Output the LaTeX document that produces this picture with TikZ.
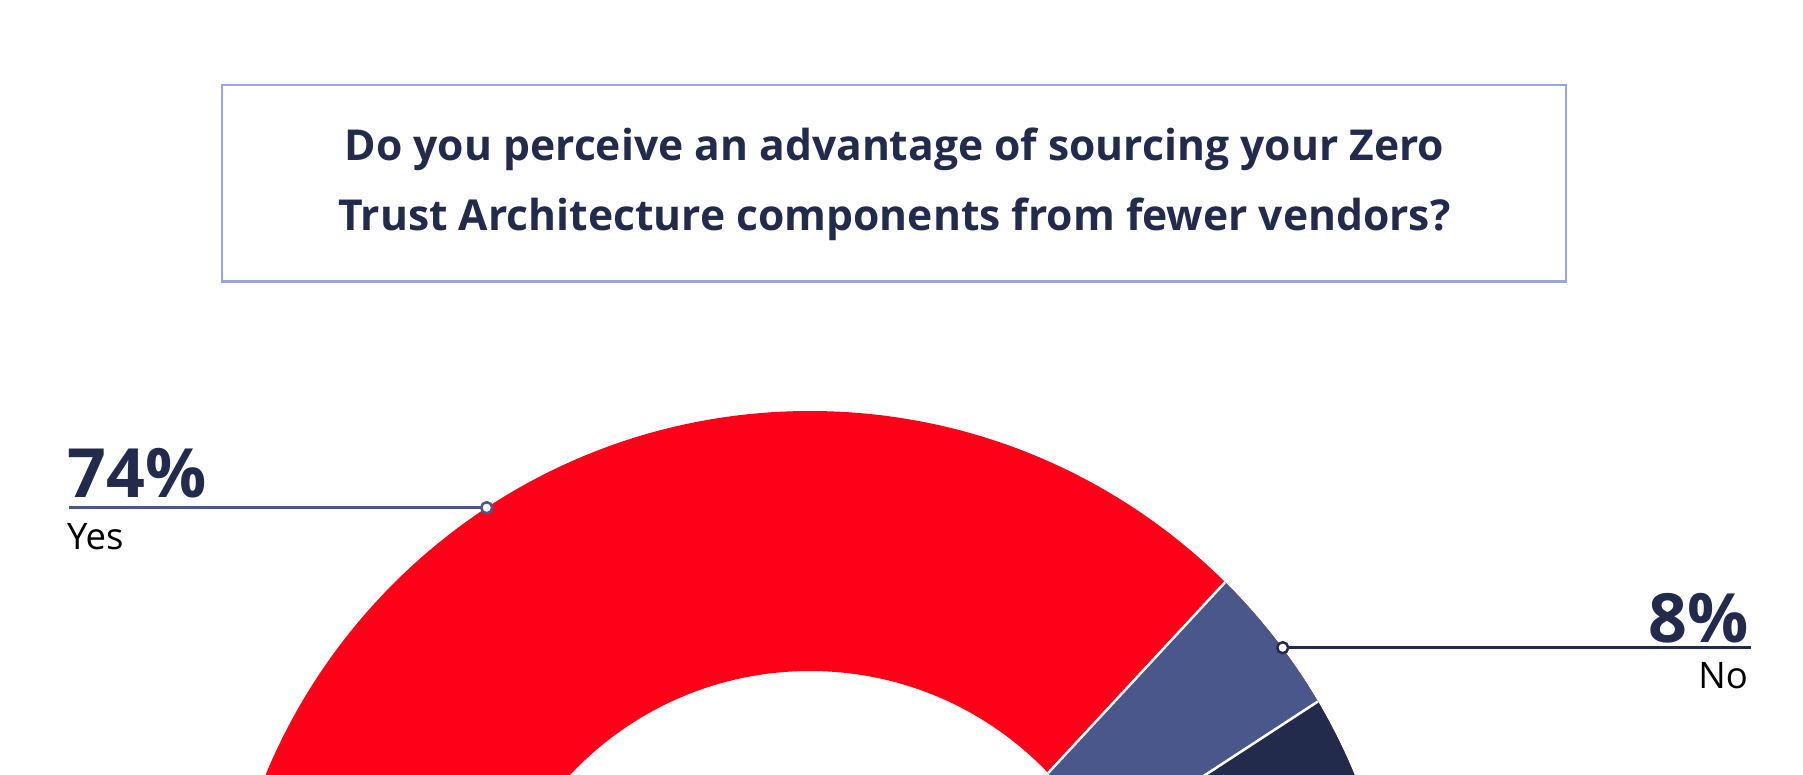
\documentclass[tikz,border=0pt]{standalone}
\usepackage{fontspec}
\setmainfont{Open Sans}
\definecolor{yesred}{HTML}{FF0019}
\definecolor{noblue}{HTML}{4A578A}
\definecolor{navy}{HTML}{232B4C}
\definecolor{boxline}{HTML}{9BA6E0}
\tikzset{
  titletext/.style={inner sep=0pt, outer sep=0pt, text=navy, font=\fontsize{42.6}{52}\selectfont\bfseries},
  pcttext/.style={inner sep=0pt, outer sep=0pt, text=navy, font=\fontsize{68}{80}\selectfont\bfseries},
  cattext/.style={inner sep=0pt, outer sep=0pt, text=black, font=\fontsize{36.5}{44}\selectfont},
  leaderdot/.style={circle, fill=white, line width=2.5pt, minimum size=11pt, inner sep=0pt, outer sep=0pt},
  leader/.style={line width=2.5pt},
  sep/.style={white, line width=2.5pt}
}
\begin{document}
\begin{tikzpicture}[x=1pt,y=-1pt]
\useasboundingbox (0,0) rectangle (1803,774);
% title box
\node[draw=boxline, line width=2.5pt, minimum width=1344pt, minimum height=196.5pt, inner sep=0pt] (titlebox) at (894,183.3) {};
\node[titletext, anchor=base] (title1) at (894.5,160.7) {Do you perceive an advantage of sourcing your Zero};
\node[titletext, anchor=base] (title2) at (894.5,230) {Trust Architecture components from fewer vendors?};
% donut
\begin{scope}[even odd rule]
\clip (0,0) rectangle (1803,774);
\clip (810,1000) circle[radius=589] (810,1000) circle[radius=329];
\fill[yesred] (0,300) rectangle (1803,1100);
\fill[noblue] (1311.4,489.1) -- (874.6,960.1) -- (1900,1100) -- (1900,489.1) -- cycle;
\fill[navy] (1425.3,631.4) -- (1097.4,845.3) -- (1900,1100) -- (1900,631.4) -- cycle;
\draw[sep] (1311.4,489.1) -- (874.6,960.1);
\draw[sep] (1425.3,631.4) -- (1097.4,845.3);
\end{scope}
% Yes label
\node[pcttext, anchor=base west] (yespct) at (67.5,497) {74\%};
\node[cattext, anchor=base west] (yeslab) at (67,549.5) {Yes};
\node[leaderdot, draw=noblue] (yesdot) at (486.7,507.7) {};
\coordinate (yesend) at (69,507.7);
\draw[leader, noblue] (yesdot) -- (yesend);
% No label
\node[pcttext, anchor=base east] (nopct) at (1749,642) {8\%};
\node[cattext, anchor=base east] (nolab) at (1748,688.5) {No};
\node[leaderdot, draw=navy] (nodot) at (1282.7,647.7) {};
\coordinate (noend) at (1751,647.7);
\draw[leader, navy] (nodot) -- (noend);
\end{tikzpicture}
\end{document}
